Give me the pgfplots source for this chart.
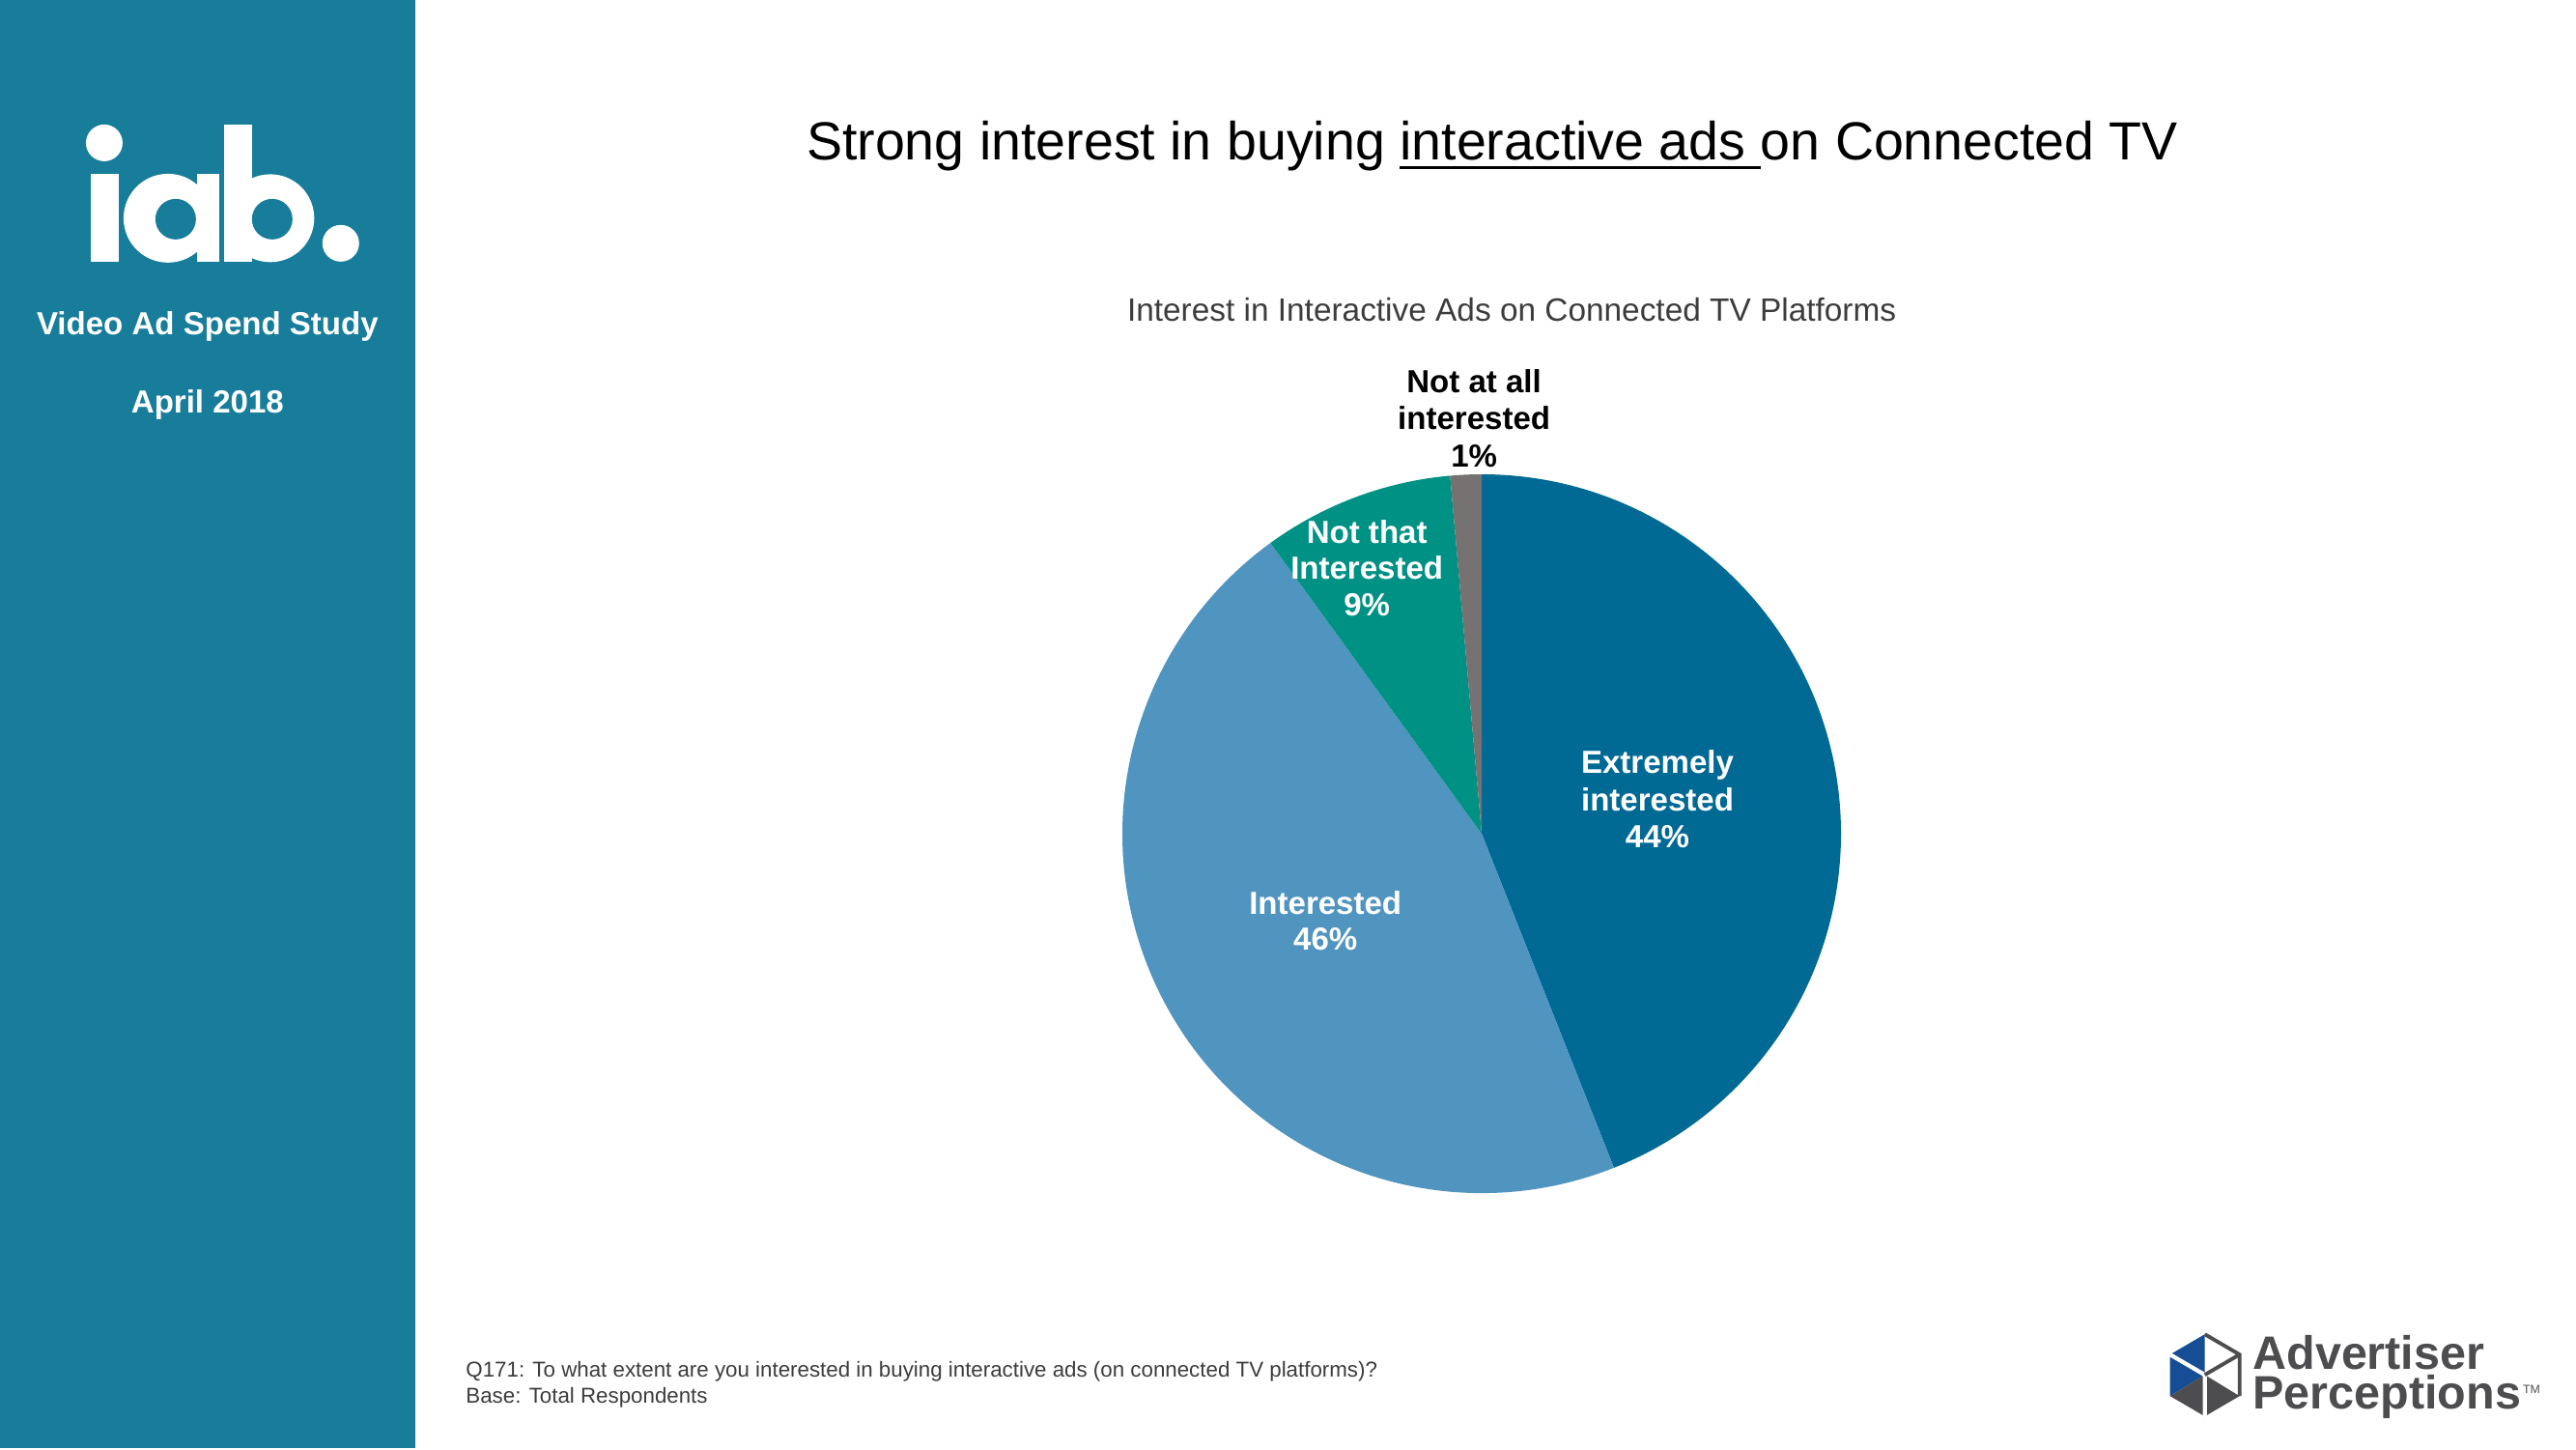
\documentclass[border=0pt]{standalone}
\usepackage{pgfplots}
\pgfplotsset{compat=1.18}
\usepackage{pgfplotstable}
\usepackage{fontspec}
\setmainfont{Liberation Sans}

\definecolor{iabteal}{RGB}{24,125,154}
\definecolor{sExtreme}{RGB}{0,105,148}
\definecolor{sInter}{RGB}{80,148,192}
\definecolor{sNotThat}{RGB}{0,145,133}
\definecolor{sNotAll}{RGB}{118,114,114}
\definecolor{apgray}{RGB}{77,77,79}
\definecolor{apblue}{RGB}{22,78,150}
\definecolor{txtgray}{RGB}{60,60,60}

% share of respondents, clockwise from 12 o'clock
\pgfplotstableread{
idx value
0 44.0
1 46.0
2 8.6
3 1.4
}\piedata

\def\slicecolor#1{\ifcase#1 sExtreme\or sInter\or sNotThat\or sNotAll\fi}
\newcommand\myul[1]{\setbox0\hbox{#1}\rlap{\rule[-2.6pt]{\wd0}{0.9pt}}\box0}

\begin{document}
\begin{tikzpicture}
\fill[white] (0,0) rectangle (26.67,15);

\begin{axis}[at={(15.34cm,6.37cm)}, anchor=origin,
  x=1cm, y=1cm, xmin=-4, xmax=4, ymin=-4, ymax=4,
  hide axis, clip=false]
\def\astart{90}
\pgfplotsforeachungrouped \i in {0,1,2,3}{%
  \pgfplotstablegetelem{\i}{value}\of\piedata
  \pgfmathsetmacro\aend{\astart-3.6*\pgfplotsretval}%
  \edef\doslice{\noexpand\fill[\slicecolor{\i}] (axis cs:0,0) -- ++(\astart:3.72cm)
    arc[start angle=\astart, end angle=\aend, radius=3.72cm] -- cycle;}%
  \doslice
  \global\let\astart\aend
}
\end{axis}

% everything else in pixel units, y downwards
\begin{scope}[x=0.01cm, y=-0.01cm, shift={(0,15cm)}]
\fill[iabteal] (0,0) rectangle (430,1500);

% iab. logo
\fill[white] (108,148) circle[radius=19];
\fill[white] (94,180) rectangle (123,271);
\fill[white] (174,226) circle[radius=46];
\fill[white] (204,180) rectangle (227,271);
\fill[iabteal] (182,227) circle[radius=21];
\fill[white] (232,129) rectangle (261,271);
\fill[white] (280,226) circle[radius=45.5];
\fill[iabteal] (282,227) circle[radius=21];
\fill[white] (353,252) circle[radius=19];

\tikzset{side/.style={anchor=base, white, inner sep=0pt,
  font=\bfseries\fontsize{9.4}{11}\selectfont}}
\node[side] at (215,347) {Video Ad Spend Study};
\node[side] at (215,428) {April 2018};

% titles
\node[anchor=base, inner sep=0pt, font=\fontsize{15.8}{18}\selectfont]
  at (1546,166) {Strong interest in buying \myul{interactive ads\ }on Connected TV};
\node[anchor=base, inner sep=0pt, txtgray, font=\fontsize{9.5}{11}\selectfont]
  at (1566,333) {Interest in Interactive Ads on Connected TV Platforms};

% slice labels
\tikzset{lab/.style={anchor=base, inner sep=0pt, white,
  font=\bfseries\fontsize{9.4}{11}\selectfont}}
\node[lab] at (1717,801) {Extremely};
\node[lab] at (1717,840) {interested};
\node[lab] at (1717,878) {44\%};
\node[lab] at (1373,947) {Interested};
\node[lab] at (1373,984) {46\%};
\node[lab] at (1416,563) {Not that};
\node[lab] at (1416,600) {Interested};
\node[lab] at (1416,638) {9\%};
\node[lab, black] at (1527,407) {Not at all};
\node[lab, black] at (1527,445) {interested};
\node[lab, black] at (1527,484) {1\%};

% footnote
\tikzset{foot/.style={anchor=base west, inner sep=0pt, txtgray,
  font=\fontsize{6.35}{8}\selectfont}}
\node[foot] at (482,1426) {Q171: To what extent are you interested in buying interactive ads (on connected TV platforms)?};
\node[foot] at (482,1453) {Base: Total Respondents};

% Advertiser Perceptions logo
\coordinate (T) at (2284,1382); \coordinate (B) at (2284,1467);
\coordinate (UL) at (2248,1403); \coordinate (LL) at (2248,1446);
\coordinate (UR) at (2320,1403); \coordinate (LR) at (2320,1446);
\coordinate (C) at (2284,1424);
\fill[apblue] (T) -- (UL) -- (LL) -- (C) -- cycle;
\fill[apgray] (LL) -- (B) -- (LR) -- (C) -- cycle;
\draw[white, line width=1.2pt] (UL) -- (C) -- (B);
\draw[apgray, line width=1.1pt] (T) -- (UR) -- (LR);
\draw[apgray, line width=1.1pt] (C) -- (UR);
\tikzset{ap/.style={anchor=base west, inner sep=0pt, apgray,
  font=\bfseries\fontsize{13.8}{15}\selectfont}}
\node[ap] at (2333,1418) {Advertiser};
\node[ap] at (2333,1459) {Perceptions};
\node[anchor=base west, inner sep=0pt, apgray, font=\fontsize{3.5}{4}\selectfont]
  at (2613,1443) {TM};
\end{scope}
\end{tikzpicture}
\end{document}
